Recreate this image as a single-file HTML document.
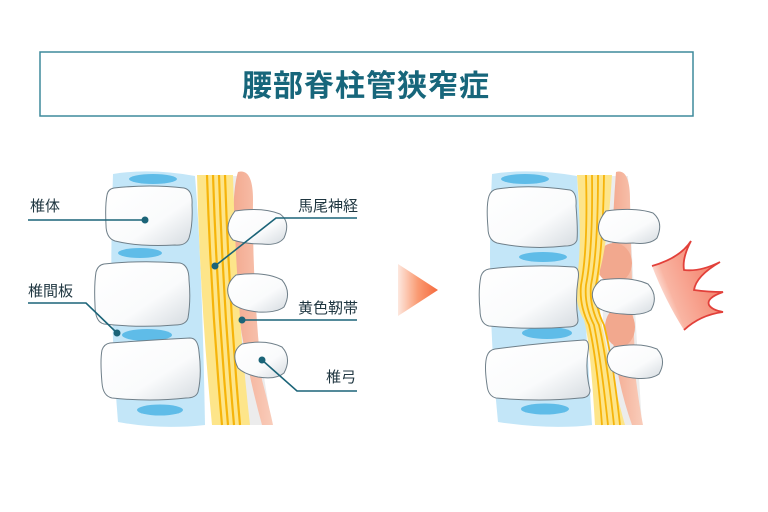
<!DOCTYPE html>
<html><head><meta charset="utf-8"><style>
html,body{margin:0;padding:0;background:#fff;width:768px;height:512px;overflow:hidden}
svg{display:block}
text{font-family:"Liberation Sans","Noto Sans CJK JP",sans-serif;fill:#1f3640}
</style></head><body>
<svg width="768" height="512" viewBox="0 0 768 512" xmlns="http://www.w3.org/2000/svg">
<defs>
<linearGradient id="bone" x1="0" y1="0" x2="1" y2="1"><stop offset="0" stop-color="#fff"/><stop offset="0.6" stop-color="#fafbfc"/><stop offset="1" stop-color="#d5dbe0"/></linearGradient>
<linearGradient id="arr" x1="0" y1="0" x2="1" y2="0"><stop offset="0" stop-color="#fde8df"/><stop offset="0.5" stop-color="#fa9a72"/><stop offset="1" stop-color="#f56a3e"/></linearGradient>
<linearGradient id="pain" x1="1" y1="0.3" x2="0" y2="0.8"><stop offset="0" stop-color="#f47a63"/><stop offset="0.7" stop-color="#f9b5a3"/><stop offset="1" stop-color="#fff" stop-opacity="0.5"/></linearGradient>
<linearGradient id="pink" x1="0" y1="0" x2="1" y2="0"><stop offset="0" stop-color="#f3a98f"/><stop offset="1" stop-color="#f9cdbb"/></linearGradient>
</defs>
<rect x="40" y="52" width="653" height="64" fill="#fff" stroke="#3e8a9c" stroke-width="1.5"/>
<text x="366" y="96" text-anchor="middle" font-size="30" font-weight="bold" style="fill:#17667b;letter-spacing:1px">腰部脊柱管狭窄症</text>

<!-- LEFT SPINE -->
<path d="M113,174 Q150,168 195,176 Q202,260 205,425 Q160,430 118,422 Q108,300 113,174Z" fill="#c3e6f8"/>
<path d="M200,176 L240,176 Q250,300 272,425 L212,425 Q205,300 200,176Z" fill="#ececec"/>
<path d="M238,172 Q253,168 253,200 Q252,280 262,380 Q270,410 273,425 L262,425 Q236,330 233,250 Q232,190 238,172Z" fill="url(#pink)"/>
<path d="M197,175 L233,175 Q236,300 250,425 L212,425 Q200,300 197,175Z" fill="#fde58a"/>
<g fill="none" stroke="#f6b40a" stroke-width="2.2">
<path d="M207,175 Q211,300 222,425"/><path d="M213,175 Q217,300 228,425"/><path d="M219,175 Q223,300 234,425"/><path d="M225,175 Q229,300 240,425"/>
</g>
<ellipse cx="153" cy="179" rx="24" ry="5" fill="#5fbce8"/>
<ellipse cx="140" cy="253" rx="22" ry="5" fill="#5fbce8"/>
<ellipse cx="147" cy="335" rx="25" ry="6" fill="#5fbce8"/>
<ellipse cx="160" cy="410" rx="23" ry="5.5" fill="#5fbce8"/>
<g fill="url(#bone)" stroke="#6f7f89" stroke-width="1">
<path d="M114,188 Q150,184 184,188 Q193,190 192,205 Q193,225 189,238 Q186,246 175,245 Q140,247 115,241 Q106,238 106,225 Q105,205 107,195 Q108,189 114,188Z"/>
<path d="M104,264 Q140,260 180,263 Q189,265 189,280 Q191,300 188,318 Q186,325 175,325 Q140,328 104,324 Q95,322 95,305 Q94,285 96,272 Q98,265 104,264Z"/>
<path d="M110,343 Q150,340 190,338 Q198,338 199,352 Q202,375 198,392 Q196,398 186,398 Q150,402 112,398 Q103,396 102,383 Q100,360 102,350 Q104,344 110,343Z"/>
<path d="M235,211 Q262,207 280,214 Q291,222 284,238 Q278,246 262,244 Q245,244 233,240 Q222,228 235,211Z"/>
<path d="M236,275 Q265,271 282,280 Q292,292 284,307 Q276,313 258,312 Q240,310 233,304 Q221,288 236,275Z"/>
<path d="M242,344 Q266,339 282,347 Q292,358 284,373 Q276,380 258,377 Q244,374 238,368 Q230,352 242,344Z"/>
</g>
<g stroke="#1b6478" stroke-width="1.6" fill="none">
<path d="M28,220 L145,220"/><path d="M28,303 L86,303 L117,333"/>
<path d="M357,218 L276,218 L215,266"/><path d="M357,320 L242,320"/><path d="M357,391 L297,391 L262,360"/>
</g>
<g fill="#1b6478"><circle cx="145" cy="220" r="3.5"/><circle cx="117" cy="333" r="3.5"/><circle cx="215" cy="266" r="3.5"/><circle cx="242" cy="320" r="3.5"/><circle cx="262" cy="360" r="3.5"/></g>
<text x="30" y="211" font-size="15">椎体</text>
<text x="28" y="296" font-size="15">椎間板</text>
<text x="298" y="211" font-size="15">馬尾神経</text>
<text x="298" y="313" font-size="15">黄色靭帯</text>
<text x="326" y="382" font-size="15">椎弓</text>

<polygon points="398,264 438,290 398,316" fill="url(#arr)"/>

<!-- RIGHT SPINE -->
<path d="M492,174 Q530,168 577,176 Q582,260 592,425 Q550,430 498,422 Q486,300 492,174Z" fill="#c3e6f8"/>
<path d="M600,176 L628,176 Q634,300 642,425 L605,425Z" fill="#ececec"/>
<path d="M616,172 Q630,168 630,200 Q632,300 636,380 Q640,410 643,425 L632,425 Q616,380 612,330 Q610,250 616,172Z" fill="url(#pink)"/>
<ellipse cx="614" cy="263" rx="18" ry="20" fill="#f2a88e"/>
<ellipse cx="620" cy="327" rx="15" ry="20" fill="#f2a88e"/>
<path d="M577,175 L612,175 Q608,240 600,270 Q596,300 605,340 Q615,390 625,425 L595,425 Q590,340 584,320 Q572,300 578,270 Q582,240 577,175Z" fill="#fde58a"/>
<g fill="none" stroke="#f6b40a" stroke-width="1.8">
<path d="M586,175 Q588,250 581,285 Q579,305 589,325 Q597,360 602,425"/>
<path d="M592,175 Q593,250 586,285 Q584,305 594,325 Q601,360 608,425"/>
<path d="M598,175 Q598,250 591,285 Q589,305 599,325 Q607,360 614,425"/>
<path d="M604,175 Q603,250 596,285 Q594,305 604,325 Q613,360 620,425"/>
</g>
<ellipse cx="525" cy="179" rx="24" ry="5" fill="#5fbce8"/>
<ellipse cx="543" cy="257" rx="24" ry="5" fill="#5fbce8"/>
<ellipse cx="547" cy="333" rx="25" ry="6" fill="#5fbce8"/>
<ellipse cx="545" cy="409" rx="24" ry="5.5" fill="#5fbce8"/>
<g fill="url(#bone)" stroke="#6f7f89" stroke-width="1">
<path d="M497,189 Q530,184 570,190 Q577,192 576,206 Q578,230 577,240 Q575,246 565,246 Q530,250 497,243 Q488,240 488,228 Q486,205 489,196 Q491,190 497,189Z"/>
<path d="M489,269 Q530,264 574,267 Q580,268 578,280 Q575,300 578,320 Q578,327 568,327 Q530,330 489,326 Q480,324 480,310 Q478,290 481,276 Q483,270 489,269Z"/>
<path d="M495,349 Q540,343 584,340 Q590,340 588,352 Q585,370 590,390 Q590,398 580,398 Q540,402 496,398 Q488,396 487,385 Q484,365 487,356 Q489,350 495,349Z"/>
<path d="M606,211 Q635,207 653,213 Q664,222 657,238 Q650,245 633,243 Q615,244 604,240 Q592,228 606,211Z"/>
<path d="M601,280 Q630,276 648,284 Q659,296 651,310 Q642,316 623,314 Q605,313 597,307 Q586,292 601,280Z"/>
<path d="M614,347 Q640,342 657,349 Q667,360 659,374 Q651,380 633,378 Q618,376 611,370 Q602,356 614,347Z"/>
</g>
<path d="M652,266 Q680,258 691,241 Q682,258 684,270 Q700,272 720,262 Q696,276 694,290 Q708,292 723,292 Q706,298 709,305 Q712,310 723,312 Q700,315 684,330 Q665,300 652,266Z" fill="url(#pain)"/>
<path d="M652,266 Q680,258 691,241 Q682,258 684,270 Q700,272 720,262 Q696,276 694,290 Q708,292 723,292 Q706,298 709,305 Q712,310 723,312 Q700,315 684,330" fill="none" stroke="#e2403a" stroke-width="1.8"/>
</svg>
</body></html>
